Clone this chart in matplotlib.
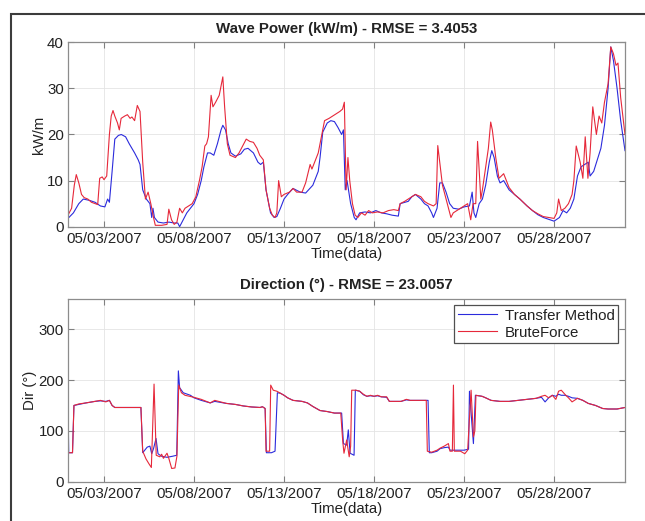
import datetime as dt
import matplotlib
matplotlib.use("Agg")
import matplotlib.pyplot as plt
import matplotlib.dates as mdates
from matplotlib.lines import Line2D

plt.rcParams['font.family'] = ['Liberation Sans', 'DejaVu Sans']

# ---------------- data (days since 05/01/2007 00:00) ----------------
wp_bf_t = [0.0, 0.2, 0.35, 0.46, 0.6, 0.75, 0.9, 1.1, 1.3, 1.5, 1.65, 1.76, 1.9, 2.0, 2.15, 2.3, 2.4, 2.5,
           2.6, 2.75, 2.85, 2.95, 3.15, 3.3, 3.45, 3.55, 3.7, 3.85, 4.0, 4.15, 4.3, 4.45, 4.6, 4.75, 4.85,
           5.2, 5.5, 5.6, 5.75, 5.9, 6.05, 6.2, 6.35, 6.5, 6.7, 6.9, 7.1, 7.3, 7.45, 7.6, 7.7, 7.8, 7.95,
           8.05, 8.2, 8.4, 8.6, 8.7, 8.85, 9.0, 9.3, 9.5, 9.7, 9.9, 10.1, 10.3, 10.5, 10.65, 10.75, 10.85,
           11.0, 11.2, 11.35, 11.5, 11.6, 11.7, 11.85, 12.0, 12.3, 12.5, 12.7, 13.0, 13.2, 13.45, 13.55,
           13.7, 13.9, 14.1, 14.25, 14.5, 14.7, 14.9, 15.1, 15.25, 15.35, 15.45, 15.55, 15.65, 15.8, 15.95,
           16.1, 16.3, 16.5, 16.7, 16.9, 17.2, 17.5, 17.8, 18.1, 18.35, 18.45, 18.7, 18.9, 19.1, 19.3, 19.6,
           19.8, 20.0, 20.3, 20.45, 20.54, 20.65, 20.8, 21.0, 21.27, 21.4, 21.6, 21.8, 22.0, 22.2, 22.37,
           22.5, 22.65, 22.75, 22.93, 23.02, 23.2, 23.35, 23.48, 23.57, 23.76, 23.94, 24.2, 24.5, 24.8,
           25.1, 25.5, 25.8, 26.1, 26.4, 26.7, 27.0, 27.15, 27.25, 27.4, 27.6, 27.8, 28.0, 28.1, 28.23,
           28.45, 28.6, 28.73, 28.88, 29.0, 29.15, 29.35, 29.5, 29.65, 29.8, 30.0, 30.15, 30.3, 30.44,
           30.55, 30.7, 30.94]
wp_bf = [2.5, 4, 9, 11.3, 9.5, 7, 6.3, 6, 5.3, 5, 4.8, 10.5, 10.8, 10.2, 11, 20, 24, 25.2,
         24, 22.5, 21, 23.5, 24, 24.3, 23.5, 23.8, 23, 26.3, 25, 14, 6, 7.5, 5, 2, 0.3,
         0.3, 0.5, 3.8, 1.5, 0.5, 1, 4, 3, 4, 4.5, 5, 6.5, 10, 13, 17.5, 18, 19.5, 28.5,
         26, 27, 28.5, 32.5, 26, 18, 15.5, 15, 16, 17.5, 19, 18.5, 18.3, 17, 15.5, 15, 14.5,
         8, 4, 2.5, 2, 3, 10, 6.5, 7, 7.5, 8.3, 7.5, 7.5, 9.5, 13.5, 12.5,
         14, 16, 20, 23, 23.5, 24, 24.5, 25, 25.5, 27, 8, 15, 10, 5, 2.5,
         2, 3, 2.5, 3.5, 3, 3.2, 3, 3.5, 3.7, 3.5, 5, 5.5, 6, 6.5, 7, 6.5,
         5.5, 5, 4.5, 5, 17.6, 14, 9, 6, 2, 3, 3.5, 4, 4.5, 5, 1.5,
         5, 5, 18.5, 6, 8, 13, 17, 22.7, 21, 15, 10.5, 11.5, 8.5, 7,
         6, 4.5, 3.5, 2.8, 2.2, 2, 1.8, 3, 6, 3.5, 4, 5, 7, 10, 17.5,
         14, 10.5, 19.5, 10.5, 16, 26, 20, 24, 22.5, 27, 31, 39, 37.5, 35,
         35.5, 28, 20]

wp_tm_t = [0.0, 0.3, 0.6, 0.85, 1.2, 1.5, 1.8, 2.05, 2.2, 2.3, 2.45, 2.6, 2.8, 2.96, 3.2, 3.4, 3.7, 3.9,
           4.0, 4.15, 4.35, 4.55, 4.65, 4.72, 4.8, 5.0, 5.3, 5.6, 5.9, 6.1, 6.2, 6.4, 6.6, 6.8, 7.0, 7.2,
           7.4, 7.55, 7.75, 7.9, 8.1, 8.3, 8.5, 8.6, 8.75, 8.9, 9.05, 9.3, 9.6, 9.8, 10.0, 10.3, 10.55,
           10.7, 10.85, 11.0, 11.25, 11.45, 11.6, 11.8, 12.0, 12.2, 12.5, 12.9, 13.2, 13.6, 13.9, 14.0,
           14.15, 14.4, 14.6, 14.8, 15.0, 15.2, 15.3, 15.4, 15.5, 15.7, 15.9, 16.0, 16.2, 16.5, 16.8,
           17.1, 17.4, 17.7, 18.0, 18.35, 18.45, 18.9, 19.1, 19.3, 19.6, 19.8, 20.0, 20.2, 20.3, 20.5,
           20.65, 20.8, 21.0, 21.2, 21.4, 21.7, 22.0, 22.3, 22.45, 22.55, 22.65, 22.84, 23.02, 23.2,
           23.4, 23.54, 23.67, 23.85, 24.0, 24.2, 24.5, 24.8, 25.1, 25.5, 25.8, 26.1, 26.4, 26.7, 27.0,
           27.3, 27.5, 27.7, 27.9, 28.1, 28.3, 28.5, 28.7, 28.9, 29.0, 29.2, 29.4, 29.6, 29.8, 30.0,
           30.15, 30.3, 30.5, 30.7, 30.94]
wp_tm = [1.8, 3, 5, 6, 5.7, 5.3, 4.5, 4.3, 6, 5.3, 12, 19, 19.8, 20, 19.5, 18, 16, 14.5,
         13.5, 8, 6, 5, 2, 4, 2, 1, 0.8, 1, 0.8, 0.8, 0, 1.5, 3, 4, 5, 7,
         10, 13, 16, 16, 15.5, 18, 21, 22, 21, 18, 16, 15.3, 15.8, 16.8, 17, 16, 14,
         13.5, 14, 8, 3, 2, 2.2, 4, 6, 7, 8.3, 7.5, 7.3, 9, 12, 15,
         20.5, 22.5, 23, 22.8, 21.5, 20, 21, 8, 10, 5, 2, 1.5, 3, 3.2, 3,
         3.5, 3, 2.8, 2.5, 2.3, 5, 5.5, 6.5, 7, 6, 5, 4.5, 3, 2, 4,
         9.5, 9.5, 7.5, 5, 4, 3.8, 4.3, 4.5, 7.5, 3, 2, 5, 6, 9,
         14, 16.5, 15, 11, 9.5, 10, 8, 7, 6, 4.5, 3.5, 2.6, 2, 1.6, 1.2,
         2, 3.5, 3, 4, 6, 11, 13, 13.5, 14, 11, 12, 14.5, 17, 22, 30,
         39, 36, 30, 23, 16.5]

dir_bf_t = [0.0, 0.25, 0.33, 0.6, 1.0, 1.5, 1.8, 2.1, 2.3, 2.45, 2.6, 3.5, 4.05, 4.15, 4.33, 4.5, 4.63,
            4.78, 4.9, 5.1, 5.2, 5.3, 5.5, 5.6, 5.76, 5.94, 6.05, 6.15, 6.3, 6.5, 7.0, 7.4, 7.9, 8.15,
            8.8, 9.3, 9.74, 10.2, 10.67, 10.8, 10.95, 11.0, 11.2, 11.26, 11.4, 11.6, 12.0, 12.2, 12.5,
            13.0, 13.3, 13.6, 14.0, 14.4, 14.8, 15.15, 15.26, 15.33, 15.48, 15.62, 15.7, 15.76, 16.0,
            16.2, 16.41, 16.6, 16.8, 17.0, 17.2, 17.4, 17.7, 17.85, 18.2, 18.5, 18.8, 19.0, 19.3, 19.6,
            19.9, 19.96, 20.2, 20.5, 20.67, 20.9, 21.13, 21.22, 21.35, 21.41, 21.46, 21.8, 22.04, 22.2,
            22.39, 22.52, 22.6, 22.66, 23.0, 23.2, 23.5, 24.0, 24.5, 25.0, 25.5, 26.0, 26.3, 26.5, 26.7,
            26.9, 27.1, 27.25, 27.4, 27.6, 27.8, 28.0, 28.3, 28.6, 28.9, 29.3, 29.7, 30.0, 30.5, 30.94]
dir_bf = [57, 57, 150, 153, 155, 158, 160, 157, 160, 150, 146, 146, 146, 60, 45, 35, 28,
          192, 52, 49, 54, 46, 56, 46, 26, 27, 50, 190, 175, 170, 166, 162, 155, 160,
          154, 152, 149, 147, 146, 147.5, 144, 60, 60, 190, 180, 178, 170, 165, 160,
          158, 155, 148, 140, 138, 135, 135, 80, 56, 82, 49, 70, 180, 180,
          178, 172, 168, 170, 168, 170, 167, 167, 158, 158, 158, 162, 160, 160, 160,
          160, 60, 58, 62, 66, 70, 75, 60, 60, 190, 60, 60, 55, 62,
          180, 88, 100, 170, 168, 165, 160, 158, 158, 160, 162, 164, 168, 170, 165,
          170, 162, 178, 180, 172, 165, 157, 164, 160, 154, 150, 144, 143, 143, 146]

dir_tm_t = [0.0, 0.04, 0.25, 0.33, 0.6, 1.0, 1.5, 1.8, 2.1, 2.3, 2.45, 2.6, 3.5, 4.05, 4.15, 4.4, 4.55,
            4.65, 4.75, 4.89, 5.0, 5.2, 5.5, 5.8, 6.04, 6.13, 6.2, 6.4, 6.8, 7.0, 7.4, 7.9, 8.15, 8.8,
            9.3, 9.74, 10.2, 10.67, 10.8, 10.95, 11.02, 11.3, 11.5, 11.63, 11.8, 12.0, 12.2, 12.5, 13.0,
            13.3, 13.6, 14.0, 14.4, 14.8, 15.2, 15.3, 15.48, 15.57, 15.67, 15.89, 15.96, 16.2, 16.41,
            16.6, 16.8, 17.0, 17.2, 17.4, 17.7, 17.85, 18.2, 18.5, 18.8, 19.0, 19.3, 19.6, 20.0, 20.07,
            20.2, 20.5, 20.67, 20.9, 21.13, 21.22, 21.6, 22.0, 22.25, 22.3, 22.52, 22.63, 23.0, 23.2,
            23.5, 24.0, 24.5, 25.0, 25.5, 26.0, 26.3, 26.5, 26.7, 26.9, 27.1, 27.25, 27.4, 27.6, 27.8,
            28.0, 28.3, 28.6, 28.9, 29.3, 29.7, 30.0, 30.5, 30.94]
dir_tm = [150, 57, 57, 150, 152, 155, 158, 159, 158, 160, 150, 146, 146, 146, 57, 68, 70,
          55, 65, 85, 55, 50, 48, 50, 52, 218, 185, 175, 170, 165, 160, 155, 158, 154,
          152, 149, 147, 146, 147.5, 144, 57, 57, 60, 175, 174, 170, 165, 160, 158,
          155, 148, 140, 138, 135, 135, 75, 72, 102, 56, 52, 180, 178, 171,
          168, 169, 168, 169, 167, 166, 158, 158, 158, 161, 160, 160, 160, 160, 57,
          57, 60, 65, 67, 68, 62, 62, 62, 64, 178, 75, 170, 168, 165,
          160, 158, 158, 160, 162, 164, 166, 157, 165, 170, 168, 172, 170, 170, 168,
          165, 164, 160, 154, 150, 144, 143, 143, 146]

series_labels = ["Transfer Method", "BruteForce"]
titles = ["Wave Power (kW/m) - RMSE = 3.4053", "Direction (\u00b0) - RMSE = 23.0057"]
ylabels = ["kW/m", "Dir (\u00b0)"]
xlabel = "Time(data)"
start_date = dt.datetime(2007, 5, 1)
end_day = 30.94
xtick_days = [2, 7, 12, 17, 22, 27]


def to_dates(days):
    return [start_date + dt.timedelta(days=d) for d in days]


W, H = 645, 521
fig = plt.figure(figsize=(W / 100, H / 100), dpi=100)
fig.patch.set_facecolor('white')

# outer window frame
fx = 10.7 / W
fy = 1 - 14 / H
fig.add_artist(Line2D([fx, fx, 1.01], [-0.01, fy, fy], transform=fig.transFigure,
                      color='#3c3c3c', lw=1.5, solid_capstyle='butt', solid_joinstyle='miter'))

ax1 = fig.add_axes([68 / W, 1 - 226.7 / H, 557 / W, 184.4 / H])
ax2 = fig.add_axes([68 / W, 1 - 481.7 / H, 557 / W, 183 / H])

blue = '#2b2bdc'
red = '#e6283a'

ax1.plot(to_dates(wp_tm_t), wp_tm, color=blue, lw=0.8, label=series_labels[0])
ax1.plot(to_dates(wp_bf_t), wp_bf, color=red, lw=0.8, label=series_labels[1])
ax2.plot(to_dates(dir_tm_t), dir_tm, color=blue, lw=0.8, label=series_labels[0])
ax2.plot(to_dates(dir_bf_t), dir_bf, color=red, lw=0.8, label=series_labels[1])

ax1.set_ylim(0, 40)
ax1.set_yticks([0, 10, 20, 30, 40])
ax2.set_ylim(0, 360)
ax2.set_yticks([0, 100, 200, 300])

for ax, title, yl in zip([ax1, ax2], titles, ylabels):
    ax.set_xlim(start_date, start_date + dt.timedelta(days=end_day))
    ax.set_xticks(to_dates(xtick_days))
    ax.xaxis.set_major_formatter(mdates.DateFormatter('%m/%d/%Y'))
    ax.grid(True, color='#e4e4e4', lw=0.6)
    ax.set_axisbelow(True)
    ax.tick_params(direction='in', length=4, width=0.8, color='#808080',
                   top=True, right=True, labelsize=10.8, labelcolor='#222222')
    ax.tick_params(axis='x', pad=4)
    ax.tick_params(axis='y', pad=3)
    for s in ax.spines.values():
        s.set_color('#8c8c8c')
        s.set_linewidth(0.9)
    ax.set_title(title, fontsize=10.8, fontweight='bold', pad=7, color='#222222')
    ax.set_ylabel(yl, fontsize=10.8, labelpad=1, color='#222222')
    ax.set_xlabel(xlabel, fontsize=10.8, labelpad=0.5, color='#222222')

leg = ax2.legend(loc='upper right', bbox_to_anchor=(0.988, 0.966), borderaxespad=0,
                 fontsize=10.8, handlelength=2.6, labelspacing=0.2, handletextpad=0.5,
                 borderpad=0.25, fancybox=False, framealpha=1)
leg.get_frame().set_edgecolor('#505050')
leg.get_frame().set_linewidth(0.9)
for t in leg.get_texts():
    t.set_color('#222222')

fig.savefig('out.png', dpi=100)
